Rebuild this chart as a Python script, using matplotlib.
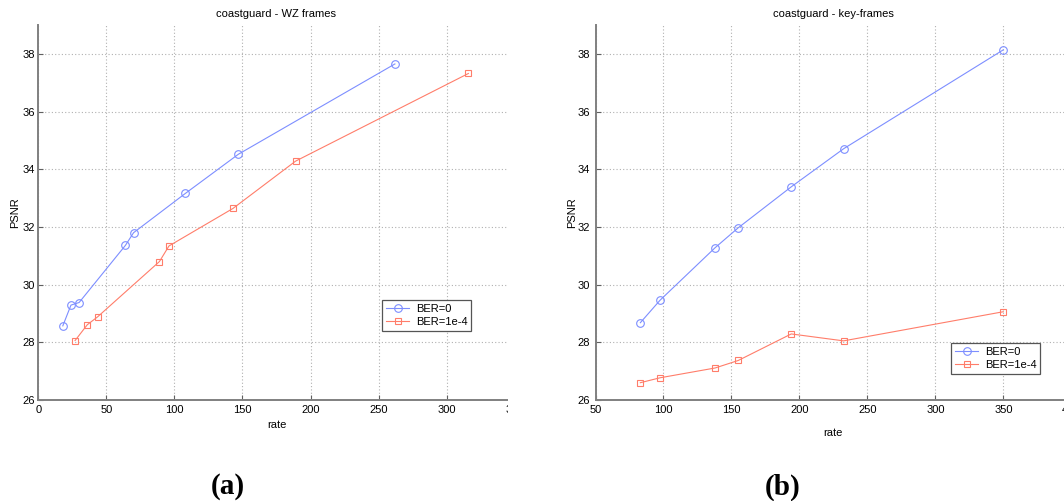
import matplotlib
matplotlib.use("Agg")
import matplotlib.pyplot as plt
from matplotlib.patches import Rectangle

plt.rcParams['font.family'] = ['Liberation Sans', 'DejaVu Sans']

# ---- data ----
wz_rate_ber0 = [18, 24, 30, 64, 70, 108, 147, 262]
wz_psnr_ber0 = [28.57, 29.29, 29.38, 31.36, 31.80, 33.16, 34.52, 37.65]
wz_rate_ber4 = [27, 36, 43.5, 89, 96, 143, 189, 316]
wz_psnr_ber4 = [28.06, 28.61, 28.88, 30.80, 31.34, 32.64, 34.28, 37.32]

key_rate_ber0 = [83, 97.5, 138, 155, 194, 232.5, 350]
key_psnr_ber0 = [28.68, 29.46, 31.28, 31.97, 33.39, 34.71, 38.14]
key_rate_ber4 = [83, 97.5, 138, 155, 194, 232.5, 350]
key_psnr_ber4 = [26.60, 26.77, 27.11, 27.37, 28.29, 28.05, 29.06]

series_labels = ['BER=0', 'BER=1e-4']
titles = ['coastguard - WZ frames', 'coastguard - key-frames']
panel_labels = ['(a)', '(b)']
x_ticks_left = [0, 50, 100, 150, 200, 250, 300, 350]
x_ticks_right = [50, 100, 150, 200, 250, 300, 350, 400]
y_ticks = [26, 28, 30, 32, 34, 36, 38]

BLUE = '#7d8eff'
RED = '#ff7d6a'
FS = 8

W, H = 1064, 501
fig = plt.figure(figsize=(W / 100, H / 100), dpi=100)

def px_axes(x0, y_top, w, h):
    return [x0 / W, (H - y_top - h) / H, w / W, h / H]

LW, RW = 476.4, 475.8
axL = fig.add_axes(px_axes(38.3, 25, LW, 375))
axR = fig.add_axes(px_axes(595.5, 25, RW, 375))

def style(ax, xlim, xticks, ypad):
    ax.set_xlim(*xlim)
    ax.set_ylim(26, 39)
    ax.set_xticks(xticks)
    ax.set_yticks(y_ticks)
    ax.grid(True, color='#b0b0b0', linestyle=(0, (1, 2)), linewidth=0.8)
    for s in ['top', 'right']:
        ax.spines[s].set_visible(False)
    for s in ['left', 'bottom']:
        ax.spines[s].set_color('#808080')
        ax.spines[s].set_linewidth(1.4)
    ax.tick_params(axis='both', direction='in', length=3.5, width=0.8,
                   color='#606060', labelsize=FS, labelcolor='black')
    ax.tick_params(axis='x', pad=3.5)
    ax.tick_params(axis='y', pad=ypad)

style(axL, (0, 350), x_ticks_left, 2.2)
style(axR, (50, 400), x_ticks_right, 4)

lkw = dict(linewidth=0.8, markerfacecolor='none', markeredgewidth=0.8)
axL.plot(wz_rate_ber0, wz_psnr_ber0, color=BLUE, marker='o', markersize=5.5,
         label=series_labels[0], **lkw)
axL.plot(wz_rate_ber4, wz_psnr_ber4, color=RED, marker='s', markersize=4.6,
         label=series_labels[1], **lkw)
axR.plot(key_rate_ber0, key_psnr_ber0, color=BLUE, marker='o', markersize=5.5,
         label=series_labels[0], **lkw)
axR.plot(key_rate_ber4, key_psnr_ber4, color=RED, marker='s', markersize=4.6,
         label=series_labels[1], **lkw)

for ax, t in zip([axL, axR], titles):
    ax.set_title(t, fontsize=FS, pad=6)
    ax.set_ylabel('PSNR', fontsize=FS)

axL.set_xlabel('rate', fontsize=FS, labelpad=3.5)
axR.set_xlabel('rate', fontsize=FS, labelpad=9.5)
axL.yaxis.set_label_coords(-18.3 / LW, 0.5)
axR.yaxis.set_label_coords(-18.5 / RW, 0.5)

def legend(ax, x, y):
    lg = ax.legend(loc='upper left', bbox_to_anchor=(x / W, (H - y) / H),
                   bbox_transform=fig.transFigure, borderaxespad=0,
                   fontsize=FS, frameon=True, fancybox=False,
                   handlelength=2.1, handletextpad=0.6, borderpad=0.35,
                   labelspacing=0.3)
    fr = lg.get_frame()
    fr.set_edgecolor('#555555')
    fr.set_linewidth(0.9)
    fr.set_alpha(1)

legend(axL, 382, 300)
legend(axR, 951, 343)

# crop left panel at its right edge as in the reference
fig.add_artist(Rectangle((508 / W, 0), 30 / W, 1, transform=fig.transFigure,
                         facecolor='white', edgecolor='none', zorder=10))

for lab, cx in zip(panel_labels, [228, 783]):
    fig.text(cx / W, (H - 487) / H, lab, ha='center', va='center',
             fontsize=21, fontweight='bold',
             family=['Liberation Serif', 'DejaVu Serif'])

fig.savefig('out.png', dpi=100, facecolor='white')
